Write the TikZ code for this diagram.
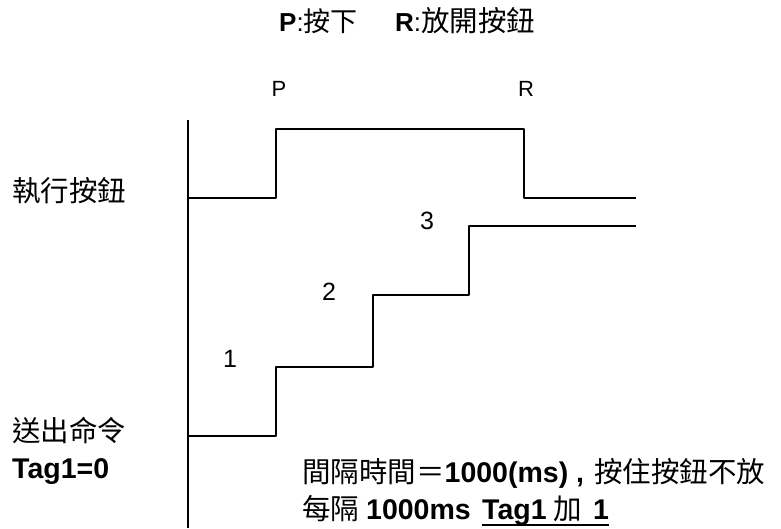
\documentclass[tikz,border=0pt]{standalone}
\usepackage{fontspec}
\setmainfont{Liberation Sans}
\newfontfamily\cjk{Noto Sans CJK TC}
\begin{document}
\begin{tikzpicture}[x=1pt,y=-1pt,
  wave/.style={line width=2.8pt,line join=round},
  lbl/.style={inner sep=0pt,anchor=base west},
  big/.style={font=\fontsize{28.5}{32}\selectfont},
  ttl/.style={font=\fontsize{26}{30}\selectfont},
  plab/.style={inner sep=0pt,font=\fontsize{22}{24}\selectfont},
  num/.style={inner sep=0pt,font=\fontsize{25}{28}\selectfont}]
\useasboundingbox (0,0) rectangle (781,528);
% title
\node[lbl,ttl] (titleP) at (279,31) {\textbf{P}:{\fontsize{27}{30}\selectfont\cjk 按下}};
\node[lbl,ttl] (titleR) at (395,31) {\textbf{R}:{\fontsize{28.5}{30}\selectfont\cjk 放開按鈕}};
% axis
\coordinate (axT) at (188,120);
\coordinate (axB) at (188,528);
\draw[wave] (axT) -- (axB);
% button waveform
\coordinate (b0) at (188,198);
\coordinate (b1) at (276,198);
\coordinate (b2) at (276,129);
\coordinate (b3) at (524,129);
\coordinate (b4) at (524,198);
\coordinate (b5) at (636,198);
\draw[wave] (b0) -- (b1) -- (b2) -- (b3) -- (b4) -- (b5);
% counter waveform
\coordinate (c0) at (188,436);
\coordinate (c1) at (276,436);
\coordinate (c2) at (276,367);
\coordinate (c3) at (373,367);
\coordinate (c4) at (373,295);
\coordinate (c5) at (469,295);
\coordinate (c6) at (469,226);
\coordinate (c7) at (636,226);
\draw[wave] (c0) -- (c1) -- (c2) -- (c3) -- (c4) -- (c5) -- (c6) -- (c7);
% P, R labels
\node[plab] (P) at (279,89) {P};
\node[plab] (R) at (526,89) {R};
% step numbers
\node[num] (n1) at (230,359) {1};
\node[num] (n2) at (329,292) {2};
\node[num] (n3) at (427,221) {3};
% left labels
\node[lbl,big] (btn) at (12,201) {\cjk 執行按鈕};
\node[lbl,big] (send) at (12,441) {\cjk 送出命令};
\node[lbl,big] (tag0) at (12,478) {\textbf{Tag1=0}};
% bottom notes
\node[lbl,big] (note1) at (302,482) {{\cjk 間隔時間＝}\textbf{1000(ms)\hspace{8pt},}\hspace{10pt}{\cjk 按住按鈕不放}};
\node[lbl,big] (note2a) at (302,519) {{\cjk 每隔}\hspace{7pt}\textbf{1000ms}};
\node[lbl,big] (note2b) at ([xshift=11pt]note2a.base east) {\textbf{Tag1}\hspace{7pt}{\cjk 加}\hspace{11pt}\textbf{1}};
\draw[line width=2.4pt] ([yshift=-6pt]note2b.base west) -- ([yshift=-6pt]note2b.base east);
\end{tikzpicture}
\end{document}
